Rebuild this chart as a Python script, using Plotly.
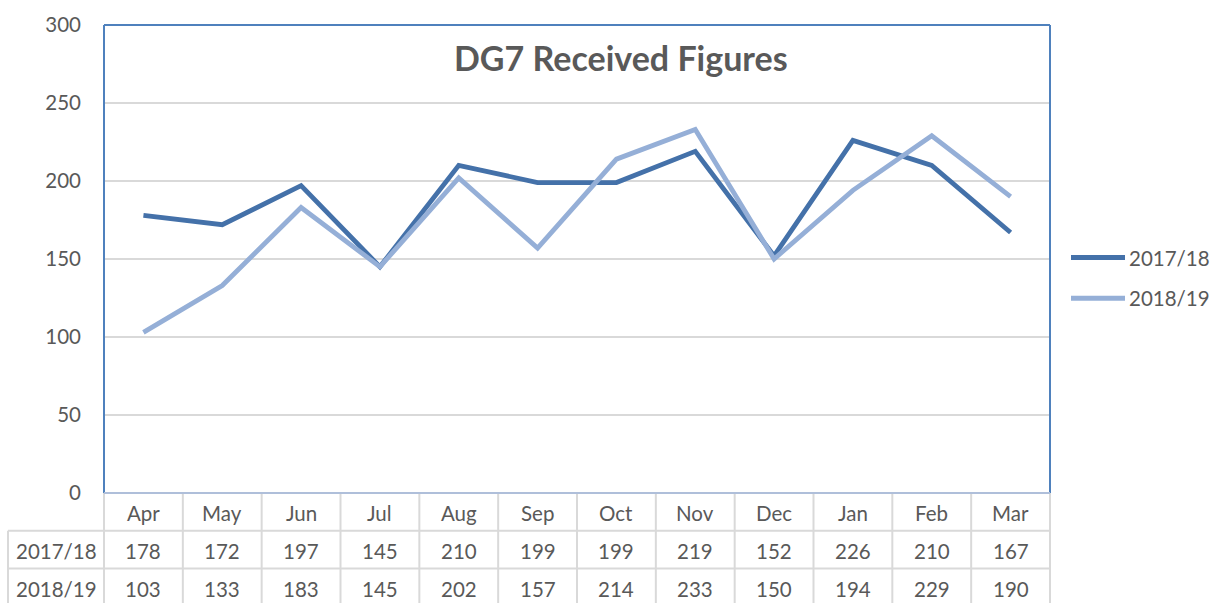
import plotly.graph_objects as go

months = ["Apr", "May", "Jun", "Jul", "Aug", "Sep", "Oct", "Nov", "Dec", "Jan", "Feb", "Mar"]
series_names = ["2017/18", "2018/19"]
values_2017_18 = [178, 172, 197, 145, 210, 199, 199, 219, 152, 226, 210, 167]
values_2018_19 = [103, 133, 183, 145, 202, 157, 214, 233, 150, 194, 229, 190]
y_ticks = [0, 50, 100, 150, 200, 250, 300]
title_text = "DG7 Received Figures"

series_values = [values_2017_18, values_2018_19]
colors = ["#4471A9", "#95AFD7"]
FONT = "Lato, 'Open Sans', sans-serif"
TXT = "#595959"
GRID = "#D9D9D9"

W, H = 1211, 603
L, R, T, B = 104, 161, 22, 110
pw, ph = W - L - R, H - T - B

fig = go.Figure()
for name, vals, col in zip(series_names, series_values, colors):
    fig.add_trace(go.Scatter(x=months, y=vals, mode="lines", name=name,
                             line=dict(color=col, width=4.8), showlegend=False))

n = len(months)
def px_y(py):  # pixel y -> paper y
    return (H - B - py) / ph
def px_x(px):
    return (px - L) / pw

row_h = 38
y_hdr_bot = px_y(H - B + row_h)
y_r1_bot = px_y(H - B + 2 * row_h)
y_r2_bot = px_y(H - B + 3 * row_h + 4)
x_lab_left = px_x(8)

shapes = []
line_style = dict(color=GRID, width=2)
for i in range(n + 1):
    shapes.append(dict(type="line", xref="paper", yref="paper", x0=i / n, x1=i / n,
                       y0=0, y1=y_r2_bot, line=line_style, layer="below"))
shapes.append(dict(type="line", xref="paper", yref="paper", x0=x_lab_left, x1=x_lab_left,
                   y0=y_hdr_bot, y1=y_r2_bot, line=line_style))
for yy in [y_hdr_bot, y_r1_bot]:
    shapes.append(dict(type="line", xref="paper", yref="paper", x0=x_lab_left, x1=1,
                       y0=yy, y1=yy, line=line_style))
border = dict(color="#4F81BD", width=2)
shapes.append(dict(type="line", xref="paper", yref="paper", x0=0, x1=1, y0=1, y1=1, line=border))
shapes.append(dict(type="line", xref="paper", yref="paper", x0=0, x1=0, y0=0, y1=1, line=border))
shapes.append(dict(type="line", xref="paper", yref="paper", x0=1, x1=1, y0=0, y1=1, line=border))
shapes.append(dict(type="line", xref="paper", yref="paper", x0=0, x1=1, y0=0, y1=0,
                   line=dict(color="#AFBFDA", width=2)))

annotations = []
fnt = dict(family=FONT, size=20.5, color=TXT)
y_hdr_mid = px_y(H - B + row_h / 2 + 1)
y_r1_mid = px_y(H - B + row_h * 1.5 + 1)
y_r2_mid = px_y(H - B + row_h * 2.5 + 2)
for i, m in enumerate(months):
    annotations.append(dict(x=m, xref="x", y=y_hdr_mid, yref="paper", text=m,
                            showarrow=False, font=fnt, xanchor="center", yanchor="middle"))
    annotations.append(dict(x=m, xref="x", y=y_r1_mid, yref="paper", text=str(values_2017_18[i]),
                            showarrow=False, font=fnt, xanchor="center", yanchor="middle"))
    annotations.append(dict(x=m, xref="x", y=y_r2_mid, yref="paper", text=str(values_2018_19[i]),
                            showarrow=False, font=fnt, xanchor="center", yanchor="middle"))
for name, ym in zip(series_names, [y_r1_mid, y_r2_mid]):
    annotations.append(dict(x=px_x(56), xref="paper", y=ym, yref="paper", text=name,
                            showarrow=False, font=fnt, xanchor="center", yanchor="middle"))

for k, (name, col) in enumerate(zip(series_names, colors)):
    yy = px_y(256 + 41 * k)
    shapes.append(dict(type="line", xref="paper", yref="paper", x0=px_x(1071), x1=px_x(1125),
                       y0=yy, y1=yy, line=dict(color=col, width=5)))
    annotations.append(dict(x=px_x(1127), xref="paper", y=yy, yref="paper", text=name,
                            showarrow=False, font=fnt, xanchor="left", yanchor="middle"))

annotations.append(dict(x=px_x(621), xref="paper", y=px_y(55), yref="paper", text="<b>" + title_text + "</b>",
                        showarrow=False, font=dict(family=FONT, size=34, color=TXT),
                        xanchor="center", yanchor="middle"))

fig.update_layout(
    width=W, height=H,
    margin=dict(l=L, r=R, t=T, b=B, pad=0),
    paper_bgcolor="white", plot_bgcolor="white",
    shapes=shapes, annotations=annotations,
    xaxis=dict(type="category", range=[-0.5, n - 0.5], showticklabels=False, showgrid=False,
               zeroline=False, showline=False, ticks=""),
    yaxis=dict(range=[0, 300], tickvals=y_ticks, ticktext=[str(v) for v in y_ticks],
               showgrid=True, gridcolor=GRID, gridwidth=2, zeroline=False, showline=False,
               ticks="", ticklabelstandoff=22,
               tickfont=dict(family=FONT, size=20.5, color=TXT)),
)

fig.write_html("out.html", config={"displayModeBar": False},
               post_script="document.body.style.margin='0';document.body.style.padding='0';"
                           "document.documentElement.style.overflow='hidden';")
